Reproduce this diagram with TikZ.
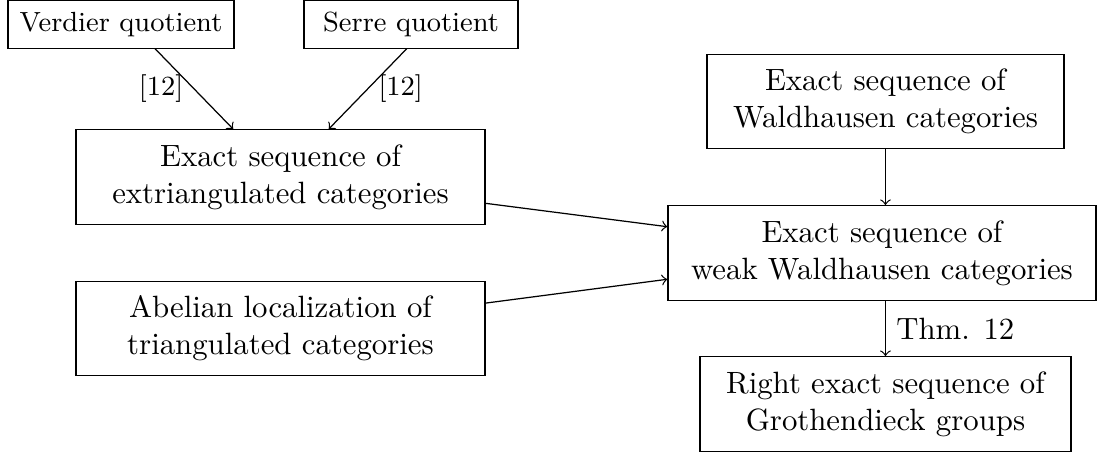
\documentclass[tikz,border=0pt]{standalone}
\usepackage{amsmath}
\usepackage{xcolor}

\tikzset{
  box/.style={draw, align=center, inner sep=0pt, minimum height=1.08cm},
  smallbox/.style={draw, align=center, inner sep=0pt, font=\small, minimum height=0.54cm},
}

\begin{document}
\begin{tikzpicture}
    \useasboundingbox (0,0) rectangle (12.523,-5.160);

    % Draw the quotient boxes
    \node[smallbox, minimum width=2.58cm] (verdier) at (1.381,-0.280) {Verdier quotient};
    \node[smallbox, minimum width=2.443cm] (serre) at (4.692,-0.280) {Serre quotient};

    % Draw the left column
    \node[box, minimum width=4.669cm] (extri) at (3.202,-2.021) {Exact sequence of\\extriangulated categories};
    \node[box, minimum width=4.669cm] (abelian) at (3.202,-3.750) {Abelian localization of\\triangulated categories};

    % Draw the right column
    \node[box, minimum width=4.075cm] (wald) at (10.108,-1.159) {Exact sequence of\\Waldhausen categories};
    \node[box, minimum width=4.886cm] (weak) at (10.068,-2.888) {Exact sequence of\\weak Waldhausen categories};
    \node[box, minimum width=4.235cm] (groth) at (10.108,-4.612) {Right exact sequence of\\Grothendieck groups};

    % Draw the arrows
    \draw[->] ([xshift=0.39cm]verdier.south) -- node[midway, left, font=\small] {[12]} ([xshift=-0.54cm]extri.north);
    \draw[->] ([xshift=-0.05cm]serre.south) -- node[midway, right, font=\small] {[12]} ([xshift=0.55cm]extri.north);
    \draw[->] ([yshift=-0.3cm]extri.east) -- ([yshift=0.3cm]weak.west);
    \draw[->] ([yshift=0.29cm]abelian.east) -- ([yshift=-0.3cm]weak.west);
    \draw[->] (wald.south) -- (wald.south |- weak.north);
    \draw[->] (wald.south |- weak.south) -- node[midway, right] {Thm. 12} (wald.south |- groth.north);
\end{tikzpicture}
\end{document}
